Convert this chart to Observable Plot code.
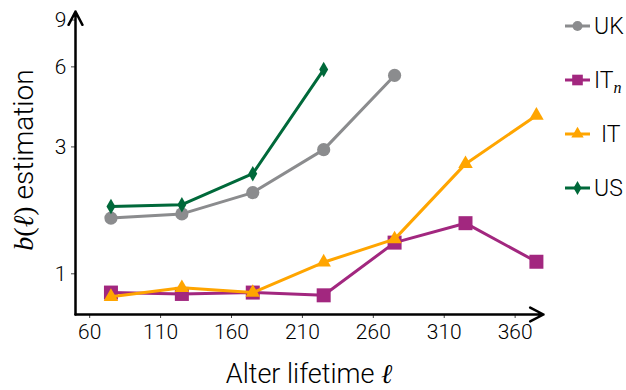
<!DOCTYPE html>
<html>
<head>
<meta charset="utf-8">
<script src="https://cdn.jsdelivr.net/npm/d3@7"></script>
<script src="https://cdn.jsdelivr.net/npm/@observablehq/plot@0.6"></script>
<style>
  html, body { margin: 0; padding: 0; background: #fff; }
  #chart { width: 626px; height: 390px; }
</style>
</head>
<body>
<div id="chart"></div>
<script>
// ---- data ----
const lifetimes = [75, 125, 175, 225, 275, 325, 375];
const seriesNames = ["UK", "IT_n", "IT", "US"];
const ukValues  = [1.62, 1.68, 2.02, 2.93, 5.57];
const itnValues = [0.85, 0.84, 0.85, 0.83, 1.31, 1.55, 1.11];
const itValues  = [0.82, 0.886, 0.85, 1.105, 1.35, 2.59, 3.94];
const usValues  = [1.79, 1.82, 2.38, 5.86];
const xTicks = [60, 110, 160, 210, 260, 310, 360];
const yTicks = [1, 3, 6, 9];
const xDomain = [50, 380];
const yDomain = [0.703, 9.69];

const colors  = {UK: "#8b8c8e", IT_n: "#a2277f", IT: "#ffa500", US: "#00693a"};
const symbols = {UK: "circle", IT_n: "square", IT: "triangle", US: "diamond"};
const radii   = {UK: 6.6, IT_n: 7.9, IT: 5.4, US: 4.7};
const valuesBy = {UK: ukValues, IT_n: itnValues, IT: itValues, US: usValues};

const rows = seriesNames.map(name =>
  valuesBy[name].map((v, i) => ({series: name, x: lifetimes[i], y: v}))
);

const sans = "Roboto";
const serif = "Liberation Serif";
const seriesMarks = rows.flatMap(data => {
  const name = data[0].series;
  return [
    Plot.line(data, {x: "x", y: "y", stroke: colors[name], strokeWidth: 3}),
    Plot.dot(data, {x: "x", y: "y", fill: colors[name], symbol: () => symbols[name], r: radii[name], stroke: "none"})
  ];
});

const chart = Plot.plot({
  width: 626,
  height: 390,
  marginLeft: 75,
  marginRight: 83,
  marginTop: 11,
  marginBottom: 76,
  style: {fontFamily: sans, fontSize: "21px", color: "#000", background: "#fff", fontWeight: 300},
  x: {domain: xDomain},
  y: {type: "log", domain: yDomain},
  symbol: {type: "identity"},
  marks: [
    Plot.axisX({ticks: xTicks, tickSize: 4, tickPadding: 6, label: null, tickFormat: d => String(d), fontSize: 21, stroke: "#444"}),
    Plot.axisY({ticks: yTicks, tickSize: 4, tickPadding: 5, label: null, tickFormat: d => String(d), fontSize: 21, stroke: "#444"}),
    Plot.arrow([{x1: xDomain[0], x2: xDomain[1], y1: yDomain[0], y2: yDomain[0]}],
      {x1: "x1", x2: "x2", y1: "y1", y2: "y2", stroke: "#000", strokeWidth: 2.5, headLength: 9, headAngle: 55}),
    Plot.arrow([{x1: xDomain[0], x2: xDomain[0], y1: yDomain[0], y2: yDomain[1]}],
      {x1: "x1", x2: "x2", y1: "y1", y2: "y2", stroke: "#000", strokeWidth: 2.5, headLength: 9, headAngle: 55}),
    ...seriesMarks
  ]
});

document.getElementById("chart").appendChild(chart);

// ---- axis labels (mixed fonts) ----
const svg = d3.select(chart);
const xl = svg.append("text")
  .attr("x", 309).attr("y", 383)
  .attr("text-anchor", "middle")
  .attr("font-family", sans).attr("font-size", 27).attr("font-weight", 300).attr("fill", "#000");
xl.append("tspan").text("Alter lifetime ");
xl.append("tspan").attr("font-family", serif).attr("font-style", "italic").attr("font-weight", 400).text("ℓ");

const yl = svg.append("text")
  .attr("transform", "translate(33,160) rotate(-90)")
  .attr("text-anchor", "middle")
  .attr("font-family", sans).attr("font-size", 28).attr("font-weight", 300).attr("fill", "#000");
yl.append("tspan").attr("font-family", serif).attr("font-style", "italic").attr("font-weight", 400).text("b");
yl.append("tspan").attr("font-family", serif).attr("font-weight", 400).text("(");
yl.append("tspan").attr("font-family", serif).attr("font-style", "italic").attr("font-weight", 400).text("ℓ");
yl.append("tspan").attr("font-family", serif).attr("font-weight", 400).text(")");
yl.append("tspan").text(" estimation");

// ---- legend ----
const legendY = {UK: 26, IT_n: 80, IT: 134, US: 188};
const d3sym = {UK: d3.symbolCircle, IT_n: d3.symbolSquare, IT: d3.symbolTriangle, US: d3.symbolDiamond};
const legendR = {UK: 5, IT_n: 6, IT: 4.6, US: 4.2};
const lg = svg.append("g").attr("text-anchor", "start");
seriesNames.forEach(name => {
  const g = lg.append("g").attr("transform", `translate(0,${legendY[name]})`);
  g.append("line").attr("x1", 565).attr("x2", 590).attr("y1", 0).attr("y2", 0)
    .attr("stroke", colors[name]).attr("stroke-width", 3);
  g.append("path").attr("transform", "translate(577.5,0)")
    .attr("d", d3.symbol(d3sym[name], Math.PI * legendR[name] ** 2)())
    .attr("fill", colors[name]);
  const t = g.append("text").attr("x", name === "IT" ? 601 : 594).attr("y", 8)
    .attr("text-anchor", "start")
    .attr("font-family", sans).attr("font-size", 23).attr("font-weight", 300).attr("fill", "#000");
  if (name === "IT_n") {
    t.append("tspan").text("IT");
    t.append("tspan").attr("font-family", serif).attr("font-style", "italic").attr("font-weight", 400)
      .attr("font-size", 16).attr("dy", 5).text("n");
  } else {
    t.text(name);
  }
});
</script>
</body>
</html>
